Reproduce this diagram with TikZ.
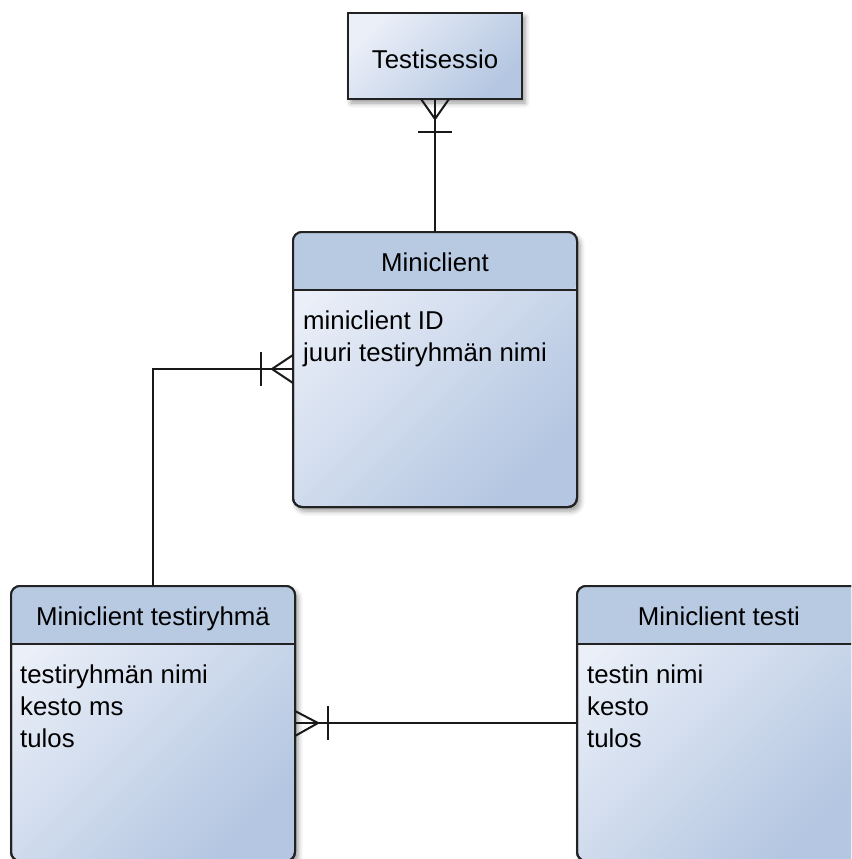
\documentclass[tikz,border=0pt]{standalone}
\usepackage{fontspec}
\setmainfont{Liberation Sans}
\usetikzlibrary{shadows.blur}
\definecolor{hdrblue}{RGB}{184,201,226}
\definecolor{bodylight}{RGB}{234,239,248}
\definecolor{bodydark}{RGB}{180,198,225}
\definecolor{edge}{RGB}{34,34,34}
\begin{document}
\begin{tikzpicture}[x=1pt,y=-1pt,
  font=\fontsize{25.8pt}{32pt}\selectfont,
  boxshade/.style={top color=bodylight, bottom color=bodydark, shading angle=45},
  softshadow/.style={blur shadow={shadow xshift=3pt, shadow yshift=-4pt,
      shadow blur radius=5pt, shadow opacity=40}},
  entity/.style={boxshade, softshadow, draw=edge, line width=2pt,
      rounded corners=9pt, minimum width=284pt, minimum height=275pt,
      anchor=north west, inner sep=0pt, outer sep=0pt},
  tsbox/.style={boxshade, softshadow, draw=edge, line width=2pt,
      minimum width=174pt, minimum height=86pt, inner sep=0pt, outer sep=0pt},
  outline/.style={draw=edge, line width=2pt, rounded corners=9pt},
  conn/.style={draw=black!90, line width=2pt},
  attr/.style={anchor=base west, inner sep=0pt},
  title/.style={anchor=base, inner sep=0pt}
]
\useasboundingbox (0,0) rectangle (851,859);
\clip (0,0) rectangle (851,859);

% entity with a header band: #1 = node name
\newcommand{\entityhead}[1]{%
  \fill[hdrblue, rounded corners=9pt] ([yshift=-58pt]#1.north west)
     |- (#1.north) -| ([yshift=-58pt]#1.north east) [sharp corners] -- cycle;
  \draw[draw=edge, line width=2pt] ([yshift=-58pt]#1.north west) -- ([yshift=-58pt]#1.north east);
  \draw[outline] (#1.north west) rectangle (#1.south east);
}

% Testisessio
\node[tsbox] (ts) at (435,56) {};
\node[title] (tst) at ([yshift=-55pt]ts.north) {Testisessio};

% Miniclient
\node[entity] (mc) at (293,232) {};
\entityhead{mc}
\node[title] (mch) at ([yshift=-39pt]mc.north) {Miniclient};
\node[attr] (mc1) at ([xshift=10pt,yshift=-97pt]mc.north west) {miniclient ID};
\node[attr] (mc2) at ([xshift=10pt,yshift=-129pt]mc.north west) {juuri testiryhmän nimi};

% Miniclient testiryhmä
\node[entity] (tg) at (11,586) {};
\entityhead{tg}
\node[title] (tgh) at ([yshift=-39pt]tg.north) {Miniclient testiryhmä};
\node[attr] (tg1) at ([xshift=9pt,yshift=-97pt]tg.north west) {testiryhmän nimi};
\node[attr] (tg2) at ([xshift=9pt,yshift=-129pt]tg.north west) {kesto ms};
\node[attr] (tg3) at ([xshift=9pt,yshift=-161pt]tg.north west) {tulos};

% Miniclient testi
\node[entity] (te) at (577,586) {};
\entityhead{te}
\node[title] (teh) at ([yshift=-39pt]te.north) {Miniclient testi};
\node[attr] (te1) at ([xshift=10pt,yshift=-97pt]te.north west) {testin nimi};
\node[attr] (te2) at ([xshift=10pt,yshift=-129pt]te.north west) {kesto};
\node[attr] (te3) at ([xshift=10pt,yshift=-161pt]te.north west) {tulos};

% Testisessio -- Miniclient (one or many at Testisessio)
\draw[conn] (ts.south) -- (mc.north);
\draw[conn] ([xshift=-14pt]ts.south) -- ([yshift=-20pt]ts.south) -- ([xshift=14pt]ts.south);
\draw[conn] ([xshift=-17pt,yshift=-33pt]ts.south) -- ([xshift=17pt,yshift=-33pt]ts.south);

% Miniclient -- Miniclient testiryhmä (one or many at Miniclient)
\coordinate (mcw) at ([yshift=-137pt]mc.north west);
\draw[conn] (mcw) -| (tg.north);
\draw[conn] ([yshift=14pt]mcw) -- ([xshift=-21pt]mcw) -- ([yshift=-14pt]mcw);
\draw[conn] ([xshift=-32pt,yshift=17pt]mcw) -- ([xshift=-32pt,yshift=-17pt]mcw);

% Miniclient testiryhmä -- Miniclient testi (one or many at testiryhmä)
\coordinate (tge) at ([yshift=-137pt]tg.north east);
\draw[conn] (tge) -- (tge -| te.west);
\draw[conn] ([yshift=12pt]tge) -- ([xshift=23pt]tge) -- ([yshift=-13pt]tge);
\draw[conn] ([xshift=33pt,yshift=17pt]tge) -- ([xshift=33pt,yshift=-17pt]tge);
\end{tikzpicture}
\end{document}
